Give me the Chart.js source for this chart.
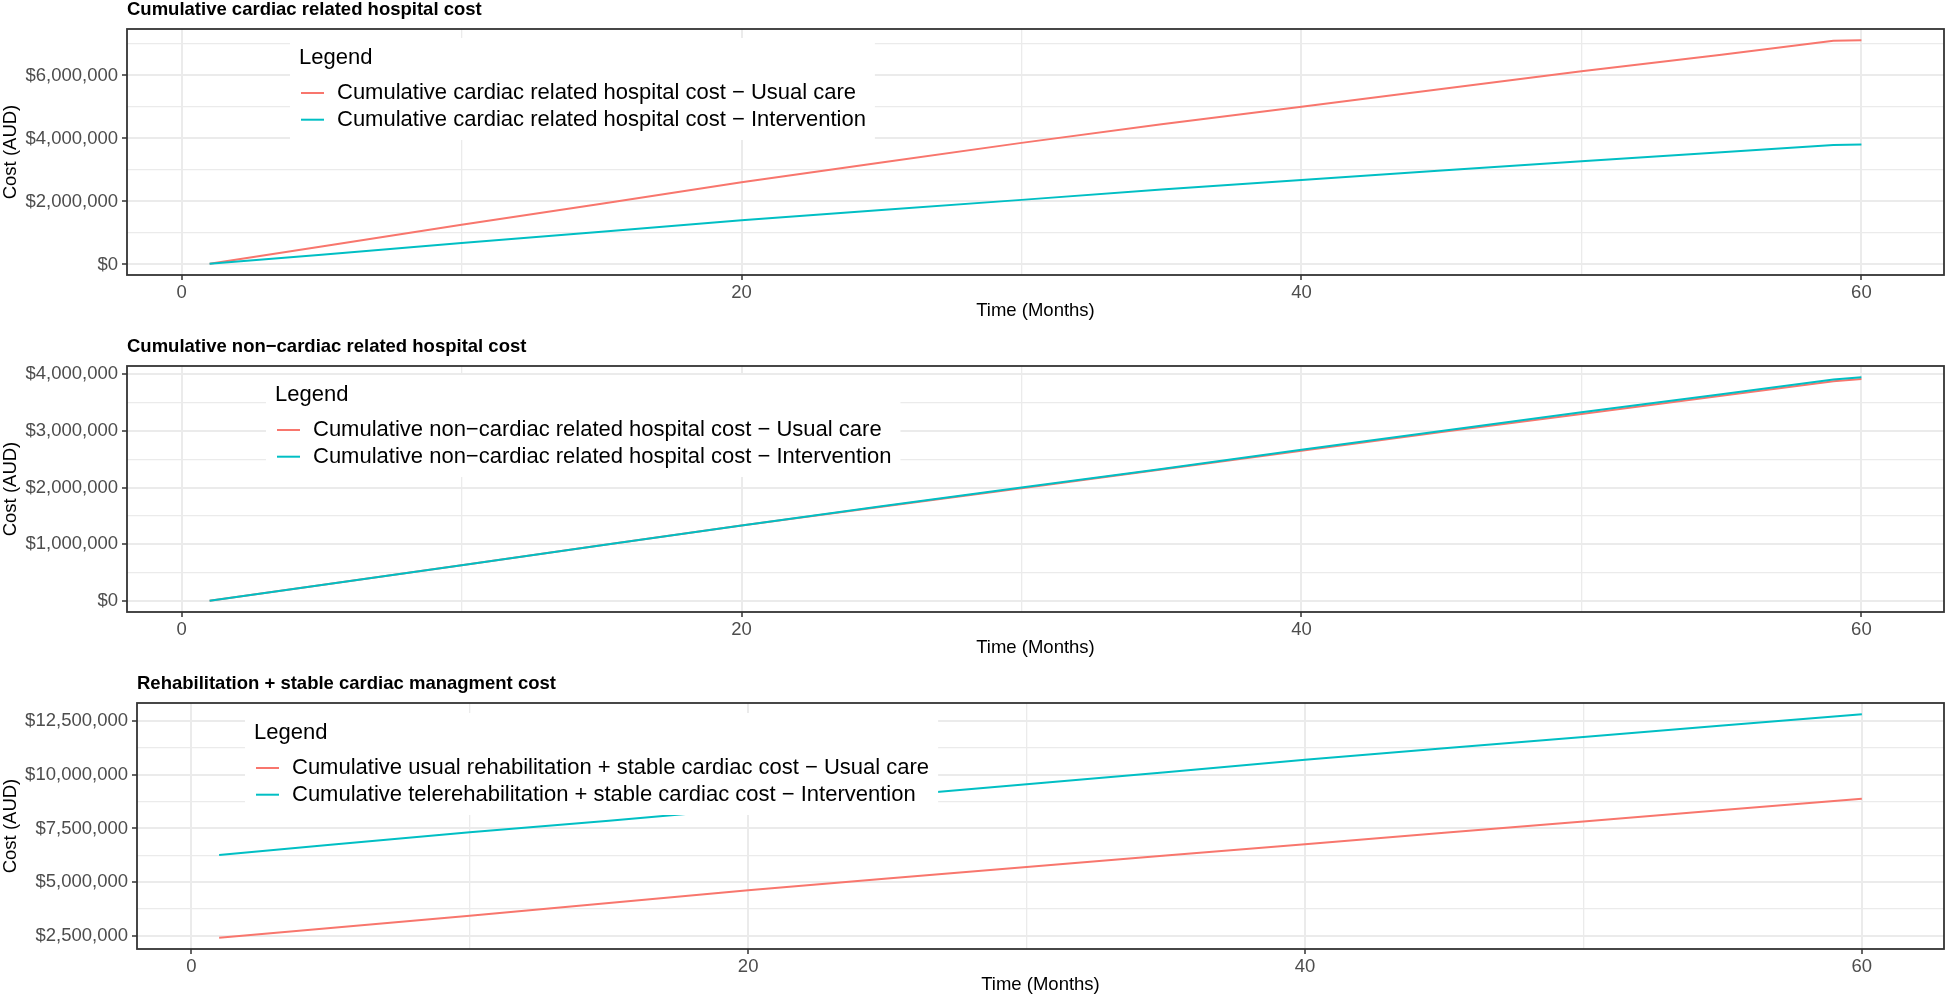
<!DOCTYPE html>
<html lang="en">
<head>
<meta charset="UTF-8" />
<title>Cumulative costs</title>
<script src="https://cdn.jsdelivr.net/npm/chart.js"></script>
<style>
  html, body { margin: 0; padding: 0; background: #fff; }
  body { width: 1945px; height: 997px; position: relative; overflow: hidden; }
  .panel { position: absolute; left: 0; width: 1945px; height: 322px; }
</style>
</head>
<body>
  <div class="panel" style="top:0px"><canvas id="cardiacChart" width="1945" height="322"></canvas></div>
  <div class="panel" style="top:337px"><canvas id="nonCardiacChart" width="1945" height="322"></canvas></div>
  <div class="panel" style="top:674px"><canvas id="rehabChart" width="1945" height="322"></canvas></div>

<script>
// months sampled along the curves (lines are straight between them)
const months = [1, 5, 10, 15, 20, 25, 30, 35, 40, 45, 50, 55, 59, 60];
const monthTicks = [0, 20, 40, 60];

const cardiacUsual = [20000, 570000, 1260000, 1930000, 2610000, 3240000, 3860000, 4450000, 5010000, 5570000, 6130000, 6660000, 7100000, 7120000];
const cardiacIntervention = [20000, 310000, 680000, 1040000, 1400000, 1730000, 2050000, 2380000, 2680000, 2980000, 3280000, 3560000, 3790000, 3810000];
const cardiacTicks = [0, 2000000, 4000000, 6000000];

const nonCardiacUsual = [0, 280000, 630000, 980000, 1330000, 1660000, 1990000, 2320000, 2650000, 2980000, 3300000, 3620000, 3880000, 3920000];
const nonCardiacIntervention = [0, 280000, 630000, 980000, 1330000, 1670000, 2000000, 2330000, 2670000, 3000000, 3330000, 3650000, 3910000, 3950000];
const nonCardiacTicks = [0, 1000000, 2000000, 3000000, 4000000];

const rehabUsual = [2410000, 2870000, 3440000, 4030000, 4620000, 5170000, 5710000, 6240000, 6770000, 7300000, 7830000, 8360000, 8780000, 8880000];
const rehabTele = [6270000, 6740000, 7320000, 7860000, 8430000, 9000000, 9560000, 10120000, 10700000, 11230000, 11760000, 12290000, 12710000, 12820000];
const rehabTicks = [2500000, 5000000, 7500000, 10000000, 12500000];

const RED = '#F8766D';
const TEAL = '#00BFC4';
const FONT = '"Liberation Sans", Arial, Helvetica, sans-serif';

Chart.defaults.font.family = FONT;

// major ticks plus the ggplot-style minor lines half way between them
function withMinor(majors, min, max) {
  const step = (majors[1] - majors[0]) / 2;
  const out = [];
  for (let v = majors[0] - step; v <= majors[majors.length - 1] + step + 1e-6; v += step) {
    if (v >= min && v <= max) out.push(v);
  }
  return out;
}

const panelDecor = {
  id: 'panelDecor',
  afterDatasetsDraw(chart, args, opts) {
    const { ctx, chartArea: a } = chart;
    ctx.save();
    // panel border
    ctx.strokeStyle = '#333333';
    ctx.lineWidth = 1.8;
    ctx.strokeRect(a.left, a.top, a.right - a.left, a.bottom - a.top);

    // title
    ctx.fillStyle = '#000';
    ctx.textBaseline = 'middle';
    ctx.font = 'bold 18.5px ' + FONT;
    ctx.fillText(opts.title, a.left, a.top - 19);

    // legend box inside the panel
    ctx.font = '22px ' + FONT;
    const lx = a.left + opts.legendX;
    const ly = a.top + opts.legendY;
    const textW = Math.max(...chart.data.datasets.map(d => ctx.measureText(d.label).width));
    ctx.fillStyle = '#fff';
    ctx.fillRect(lx, ly, textW + 56, 102);
    ctx.fillStyle = '#000';
    ctx.fillText('Legend', lx + 9, ly + 20);
    chart.data.datasets.forEach((d, i) => {
      const y = ly + 55 + i * 26.7;
      ctx.strokeStyle = d.borderColor;
      ctx.lineWidth = 2;
      ctx.beginPath();
      ctx.moveTo(lx + 11, y);
      ctx.lineTo(lx + 34, y);
      ctx.stroke();
      ctx.fillStyle = '#000';
      ctx.fillText(d.label, lx + 47, y);
    });
    ctx.restore();
  }
};

function makeChart(id, p) {
  const all = p.usual.concat(p.other);
  const lo = Math.min(...all), hi = Math.max(...all);
  const yMin = lo - (hi - lo) * 0.05;
  const yMax = hi + (hi - lo) * 0.05;
  const xMin = months[0] - (months[months.length - 1] - months[0]) * 0.05;
  const xMax = months[months.length - 1] + (months[months.length - 1] - months[0]) * 0.05;
  const xAll = withMinor(monthTicks, xMin, xMax);
  const yAll = withMinor(p.ticks, yMin, yMax);
  const isMajorX = v => monthTicks.includes(v);
  const isMajorY = v => p.ticks.includes(v);

  return new Chart(document.getElementById(id), {
    type: 'line',
    data: {
      datasets: [
        { label: p.labels[0], data: months.map((m, i) => ({ x: m, y: p.usual[i] })), borderColor: RED, order: 1 },
        { label: p.labels[1], data: months.map((m, i) => ({ x: m, y: p.other[i] })), borderColor: TEAL, order: 0 }
      ]
    },
    options: {
      responsive: false,
      animation: false,
      layout: { padding: { top: 29, right: 1, bottom: 0, left: 0 } },
      elements: {
        line: { borderWidth: 2, tension: 0, fill: false },
        point: { radius: 0, hoverRadius: 0 }
      },
      plugins: {
        legend: { display: false },
        tooltip: { enabled: false },
        panelDecor: { title: p.title, legendX: p.legendX, legendY: p.legendY }
      },
      scales: {
        x: {
          type: 'linear',
          min: xMin,
          max: xMax,
          afterBuildTicks: s => { s.ticks = xAll.map(v => ({ value: v })); },
          afterFit: s => { s.height = 47; },
          border: { display: false },
          grid: {
            color: '#ebebeb',
            lineWidth: c => (c.tick && isMajorX(c.tick.value) ? 2 : 1.3),
            tickLength: 5,
            tickWidth: 1.5,
            tickColor: c => (c.tick && isMajorX(c.tick.value) ? '#333333' : 'rgba(0,0,0,0)')
          },
          ticks: {
            autoSkip: false,
            maxRotation: 0,
            padding: 2,
            color: '#4d4d4d',
            font: { size: 18.5 },
            callback: v => (isMajorX(v) ? String(v) : '')
          },
          title: { display: true, text: 'Time (Months)', color: '#000', font: { size: 18.5 }, padding: { top: 0, bottom: 0 } }
        },
        y: {
          type: 'linear',
          min: yMin,
          max: yMax,
          afterBuildTicks: s => { s.ticks = yAll.map(v => ({ value: v })); },
          afterFit: s => { s.width = p.yLeft; },
          border: { display: false },
          grid: {
            color: '#ebebeb',
            lineWidth: c => (c.tick && isMajorY(c.tick.value) ? 2 : 1.3),
            tickLength: 5,
            tickWidth: 1.5,
            tickColor: c => (c.tick && isMajorY(c.tick.value) ? '#333333' : 'rgba(0,0,0,0)')
          },
          ticks: {
            autoSkip: false,
            padding: 4,
            color: '#4d4d4d',
            font: { size: 18.5 },
            callback: v => (isMajorY(v) ? '$' + v.toLocaleString('en-US') : '')
          },
          title: { display: true, text: 'Cost (AUD)', color: '#000', font: { size: 18.5 }, padding: { top: 0, bottom: 0 } }
        }
      }
    },
    plugins: [panelDecor]
  });
}

makeChart('cardiacChart', {
  title: 'Cumulative cardiac related hospital cost',
  labels: ['Cumulative cardiac related hospital cost \u2212 Usual care', 'Cumulative cardiac related hospital cost \u2212 Intervention'],
  usual: cardiacUsual,
  other: cardiacIntervention,
  ticks: cardiacTicks,
  yLeft: 127,
  legendX: 163,
  legendY: 9
});

makeChart('nonCardiacChart', {
  title: 'Cumulative non\u2212cardiac related hospital cost',
  labels: ['Cumulative non\u2212cardiac related hospital cost \u2212 Usual care', 'Cumulative non\u2212cardiac related hospital cost \u2212 Intervention'],
  usual: nonCardiacUsual,
  other: nonCardiacIntervention,
  ticks: nonCardiacTicks,
  yLeft: 127,
  legendX: 139,
  legendY: 9
});

makeChart('rehabChart', {
  title: 'Rehabilitation + stable cardiac managment cost',
  labels: ['Cumulative usual rehabilitation + stable cardiac cost \u2212 Usual care', 'Cumulative telerehabilitation + stable cardiac cost \u2212 Intervention'],
  usual: rehabUsual,
  other: rehabTele,
  ticks: rehabTicks,
  yLeft: 137,
  legendX: 108,
  legendY: 10
});
</script>
</body>
</html>
